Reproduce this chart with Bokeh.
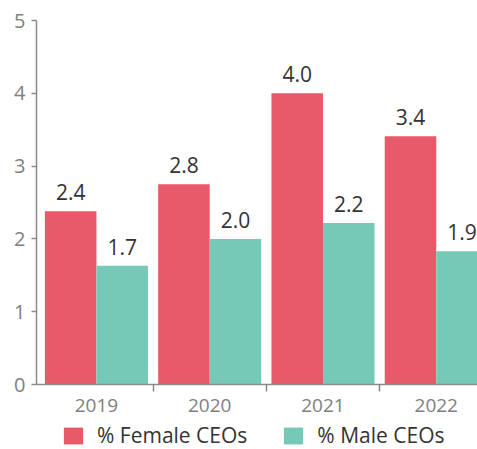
from bokeh.plotting import figure
from bokeh.layouts import column
from bokeh.models import Range1d, FixedTicker, Legend, LegendItem, ColumnDataSource, LabelSet
from bokeh.core.properties import value
from bokeh.transform import dodge
from bokeh.embed import file_html
from bokeh.resources import INLINE

years = ["2019", "2020", "2021", "2022"]
female = [2.38, 2.75, 4.0, 3.41]
male = [1.63, 2.0, 2.22, 1.83]
female_labels = ["2.4", "2.8", "4.0", "3.4"]
male_labels = ["1.7", "2.0", "2.2", "1.9"]
y_ticks = [0, 1, 2, 3, 4, 5]
series_names = ["% Female CEOs", "% Male CEOs"]

FEMALE_COLOR = "#E8596A"
MALE_COLOR = "#76C9B7"
FONT = "Open Sans"
AXIS_COLOR = "#8a8a8a"
TICK_TEXT = "#808080"
TEXT = "#333333"

pos = list(range(len(years)))
src = ColumnDataSource(dict(x=pos, female=female, male=male, fl=female_labels, ml=male_labels))

LEG_H = 27
p = figure(width=477, height=449 - LEG_H, x_range=Range1d(-0.529, 3.364), y_range=Range1d(0, 5),
           output_backend="svg", toolbar_location=None,
           min_border_left=36, min_border_right=0, min_border_top=20, min_border_bottom=38)
p.outline_line_color = None
p.grid.visible = False

bw = 0.455
rf = p.vbar(x=dodge('x', -bw / 2, range=p.x_range), top='female', width=bw, source=src,
            fill_color=FEMALE_COLOR, line_color=None)
rm = p.vbar(x=dodge('x', bw / 2, range=p.x_range), top='male', width=bw, source=src,
            fill_color=MALE_COLOR, line_color=None)

for col, lab, off in [('female', 'fl', -bw / 2), ('male', 'ml', bw / 2)]:
    ls = LabelSet(x=dodge('x', off, range=p.x_range), y=col, text=lab, source=src,
                  text_align='center', text_baseline='alphabetic', y_offset=11,
                  text_font=value(FONT), text_font_size=value('21px'), text_color=value(TEXT))
    p.add_layout(ls)

xa = p.xaxis[0]
xa.ticker = FixedTicker(ticks=pos, minor_ticks=[i + 0.5 for i in pos[:-1]])
xa.major_label_overrides = {i: y for i, y in enumerate(years)}
xa.major_tick_out = 0
xa.major_tick_in = 0
xa.minor_tick_out = 7
xa.minor_tick_in = 0
xa.minor_tick_line_color = AXIS_COLOR
xa.minor_tick_line_width = 1.5
xa.axis_line_color = AXIS_COLOR
xa.axis_line_width = 1.5
xa.major_label_text_font = FONT
xa.major_label_text_font_size = '19px'
xa.major_label_text_color = TICK_TEXT
xa.major_label_standoff = 7

ya = p.yaxis[0]
ya.ticker = FixedTicker(ticks=y_ticks, minor_ticks=[])
ya.major_tick_out = 5
ya.major_tick_in = 0
ya.major_tick_line_color = AXIS_COLOR
ya.major_tick_line_width = 1.5
ya.axis_line_color = AXIS_COLOR
ya.axis_line_width = 1.5
ya.major_label_text_font = FONT
ya.major_label_text_font_size = '20px'
ya.major_label_text_color = TICK_TEXT
ya.major_label_standoff = 6

# legend strip below the chart
lf = figure(width=477, height=LEG_H, x_range=Range1d(-0.529, 3.364), y_range=Range1d(0, 5),
            output_backend="svg", toolbar_location=None,
            x_axis_location=None, y_axis_location=None,
            min_border_left=0, min_border_right=0, min_border_top=0, min_border_bottom=0)
lf.grid.visible = False
lf.outline_line_color = None
lr_f = lf.vbar(x='x', top='female', width=bw, source=src, fill_color=FEMALE_COLOR,
               line_color=None, visible=False)
lr_m = lf.vbar(x='x', top='male', width=bw, source=src, fill_color=MALE_COLOR,
               line_color=None, visible=False)

legend = Legend(items=[LegendItem(label=series_names[0], renderers=[lr_f]),
                       LegendItem(label=series_names[1], renderers=[lr_m])],
                orientation="horizontal", location=(25, 0),
                glyph_width=24, glyph_height=21, label_standoff=12, spacing=34,
                padding=0, margin=0, border_line_color=None, background_fill_alpha=0,
                inactive_fill_alpha=0,
                label_text_font=FONT, label_text_font_size="21px", label_text_color=TEXT)
lf.add_layout(legend)

layout = column(p, lf, spacing=0)
open("out.html", "w").write(file_html(layout, INLINE))
